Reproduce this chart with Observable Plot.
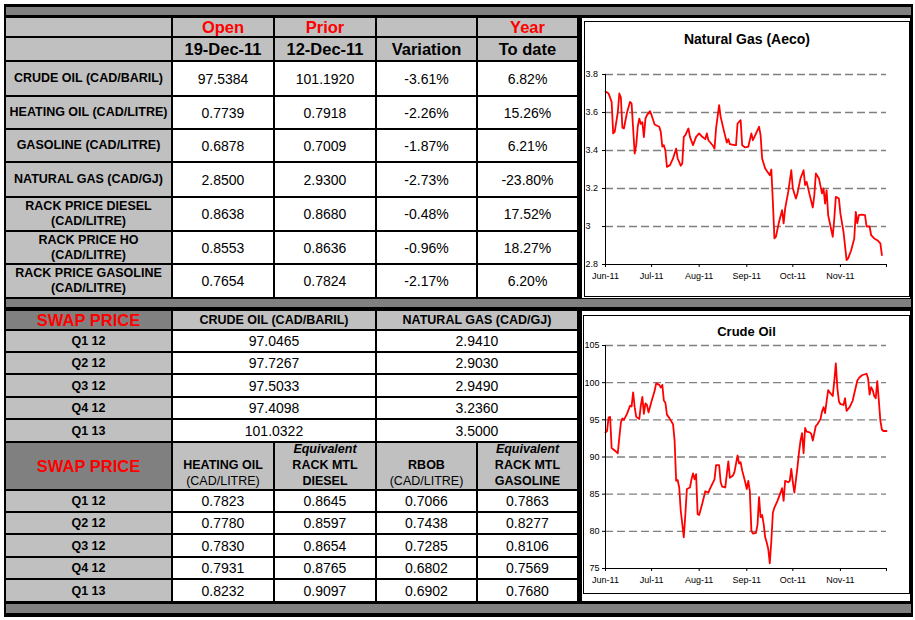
<!DOCTYPE html>
<html><head><meta charset="utf-8">
<script src="https://cdn.jsdelivr.net/npm/d3@7"></script>
<script src="https://cdn.jsdelivr.net/npm/@observablehq/plot@0.6"></script>
<style>
body{margin:0;background:#fff;font-family:"Liberation Sans",Arial,sans-serif;}
#page{position:relative;width:915px;height:620px;overflow:hidden;}
.abs{position:absolute;}
#frame{left:4px;top:4px;width:909px;height:613px;background:#000;}
.band{background:#808080;left:6px;width:905px;}
.grid{display:grid;gap:2px;background:#000;}
.c{display:flex;align-items:center;justify-content:center;text-align:center;white-space:nowrap;overflow:hidden;color:#000;}
.lg{background:#c0c0c0;}
.dg{background:#808080;}
.wh{background:#fff;}
.hdr{font-weight:bold;font-size:16.5px;}
.red{color:#ff0000;}
.lab{font-weight:bold;font-size:12.5px;line-height:15px;}
.val{font-size:14px;}
.q{font-size:12.5px;font-weight:bold;}
.sh{font-weight:bold;font-size:12.5px;}
.bh{font-size:12.5px;line-height:16px;align-items:flex-end;}
.box{background:#fff;}
.bord{border:1px solid #000;box-sizing:border-box;}
.title{text-align:center;color:#000;}
</style>
</head>
<body>
<div id="page">
  <div id="frame" class="abs"></div>
  <div class="abs band" style="top:7px;height:8px"></div>
  <div class="abs band" style="top:299px;height:8px"></div>
  <div class="abs band" style="top:604px;height:9px"></div>
  <div id="topGrid" class="abs grid" style="left:6px;top:18px;grid-template-columns:165px 100px 100px 99px 99px;grid-template-rows:18px 22px 33px 31px 31px 33px 32px 31px 32px;"></div>
  <div id="botGrid" class="abs grid" style="left:6px;top:311px;grid-template-columns:165px 100px 100px 99px 99px;grid-template-rows:18px 20px 20px 21px 20px 21px 46px 20px 20px 21px 20px 21px;"></div>
  <div class="abs box" style="left:582px;top:18px;width:328px;height:280px"></div>
  <div class="abs bord" style="left:584px;top:21px;width:326px;height:276px"></div>
  <div class="abs title" style="left:584px;width:326px;top:30px;line-height:18px;font-weight:bold;font-size:14px">Natural Gas (Aeco)</div>
  <div id="ngChart" class="abs" style="left:585px;top:60px"></div>
  <div class="abs box" style="left:582px;top:311px;width:328px;height:290px"></div>
  <div class="abs bord" style="left:583px;top:315px;width:327px;height:279px"></div>
  <div class="abs title" style="left:583px;width:327px;top:323px;line-height:18px;font-weight:bold;font-size:13px">Crude Oil</div>
  <div id="crudeChart" class="abs" style="left:585px;top:335px"></div>
</div>
<script>
// ---------- Table data ----------
const topHeader1 = ["", "Open", "Prior", "", "Year"];
const topHeader2 = ["", "19-Dec-11", "12-Dec-11", "Variation", "To date"];
const products = ["CRUDE OIL (CAD/BARIL)", "HEATING OIL (CAD/LITRE)", "GASOLINE (CAD/LITRE)", "NATURAL GAS (CAD/GJ)", "RACK PRICE DIESEL<br>(CAD/LITRE)", "RACK PRICE HO<br>(CAD/LITRE)", "RACK PRICE GASOLINE<br>(CAD/LITRE)"];
const openPrices = ["97.5384", "0.7739", "0.6878", "2.8500", "0.8638", "0.8553", "0.7654"];
const priorPrices = ["101.1920", "0.7918", "0.7009", "2.9300", "0.8680", "0.8636", "0.7824"];
const variations = ["-3.61%", "-2.26%", "-1.87%", "-2.73%", "-0.48%", "-0.96%", "-2.17%"];
const yearToDate = ["6.82%", "15.26%", "6.21%", "-23.80%", "17.52%", "18.27%", "6.20%"];

const swapTitle = "SWAP PRICE";
const swapHeader1 = ["CRUDE OIL (CAD/BARIL)", "NATURAL GAS (CAD/GJ)"];
const quarters = ["Q1 12", "Q2 12", "Q3 12", "Q4 12", "Q1 13"];
const swapCrude = ["97.0465", "97.7267", "97.5033", "97.4098", "101.0322"];
const swapGas = ["2.9410", "2.9030", "2.9490", "3.2360", "3.5000"];
const swapHeader2 = ["<b>HEATING OIL</b><br>(CAD/LITRE)", "<b><i>Equivalent</i><br>RACK MTL<br>DIESEL</b>", "<b>RBOB</b><br>(CAD/LITRE)", "<b><i>Equivalent</i><br>RACK MTL<br>GASOLINE</b>"];
const swapHeatingOil = ["0.7823", "0.7780", "0.7830", "0.7931", "0.8232"];
const swapRackDiesel = ["0.8645", "0.8597", "0.8654", "0.8765", "0.9097"];
const swapRbob = ["0.7066", "0.7438", "0.7285", "0.6802", "0.6902"];
const swapRackGasoline = ["0.7863", "0.8277", "0.8106", "0.7569", "0.7680"];

// ---------- Chart data ----------
const monthTicks = ["2011-06-01","2011-07-01","2011-08-01","2011-09-01","2011-10-01","2011-11-01","2011-12-01"];
const monthLabels = ["Jun-11","Jul-11","Aug-11","Sep-11","Oct-11","Nov-11",""];

const ngTicks = [2.8, 3, 3.2, 3.4, 3.6, 3.8];
const ngDates = ["2011-06-01","2011-06-03","2011-06-05","2011-06-06","2011-06-07","2011-06-09","2011-06-10","2011-06-11","2011-06-12","2011-06-13","2011-06-15","2011-06-17","2011-06-18","2011-06-20","2011-06-21","2011-06-22","2011-06-23","2011-06-24","2011-06-25","2011-06-26","2011-06-27","2011-06-28","2011-06-30",
"2011-07-01","2011-07-03","2011-07-06","2011-07-07","2011-07-08","2011-07-09","2011-07-10","2011-07-11","2011-07-13","2011-07-15","2011-07-17","2011-07-18","2011-07-20","2011-07-21","2011-07-22","2011-07-23","2011-07-25","2011-07-26","2011-07-28","2011-07-30",
"2011-08-01","2011-08-03","2011-08-05","2011-08-06","2011-08-07","2011-08-10","2011-08-11","2011-08-12","2011-08-14","2011-08-15","2011-08-17","2011-08-19","2011-08-20","2011-08-21","2011-08-24","2011-08-25","2011-08-26","2011-08-28","2011-08-29","2011-08-31",
"2011-09-02","2011-09-04","2011-09-05","2011-09-06","2011-09-08","2011-09-09","2011-09-10","2011-09-11","2011-09-13","2011-09-16","2011-09-17","2011-09-18","2011-09-19","2011-09-20","2011-09-22","2011-09-24","2011-09-25","2011-09-26","2011-09-28","2011-09-30",
"2011-10-01","2011-10-03","2011-10-04","2011-10-06","2011-10-08","2011-10-09","2011-10-10","2011-10-12","2011-10-14","2011-10-15","2011-10-16","2011-10-18","2011-10-20","2011-10-21","2011-10-22","2011-10-23","2011-10-24","2011-10-27","2011-10-28","2011-10-29","2011-10-31",
"2011-11-01","2011-11-03","2011-11-05","2011-11-06","2011-11-08","2011-11-10","2011-11-11","2011-11-12","2011-11-13","2011-11-15","2011-11-17","2011-11-18","2011-11-20","2011-11-21","2011-11-23","2011-11-25","2011-11-27","2011-11-28"];
const ngValues = [3.71,3.70,3.656,3.49,3.498,3.60,3.70,3.68,3.52,3.516,3.60,3.656,3.647,3.384,3.428,3.525,3.568,3.54,3.549,3.47,3.568,3.586,3.607,
3.586,3.537,3.525,3.498,3.42,3.428,3.40,3.314,3.323,3.358,3.41,3.358,3.32,3.332,3.472,3.481,3.516,3.472,3.428,3.472,
3.49,3.472,3.46,3.49,3.454,3.425,3.41,3.516,3.639,3.577,3.507,3.442,3.46,3.433,3.428,3.428,3.542,3.56,3.428,3.416,
3.42,3.49,3.454,3.472,3.507,3.525,3.481,3.358,3.305,3.27,3.30,3.13,2.937,2.946,3.024,3.086,3.016,3.095,3.182,3.296,
3.20,3.147,3.174,3.253,3.296,3.218,3.235,3.165,3.10,3.165,3.279,3.253,3.174,3.20,3.12,3.19,3.06,2.946,3.042,3.156,3.147,
3.068,2.972,2.823,2.832,2.875,2.937,3.077,3.016,3.06,3.063,3.06,3.0,3.0,2.954,2.937,2.928,2.911,2.849];

const crudeTicks = [75, 80, 85, 90, 95, 100, 105];
const crudeDates = ["2011-06-01","2011-06-02","2011-06-03","2011-06-04","2011-06-05","2011-06-06","2011-06-08","2011-06-09","2011-06-10","2011-06-11","2011-06-12","2011-06-13","2011-06-15","2011-06-17","2011-06-18","2011-06-19","2011-06-20","2011-06-21","2011-06-23","2011-06-24","2011-06-25","2011-06-26","2011-06-27","2011-06-28","2011-06-29",
"2011-07-01","2011-07-03","2011-07-04","2011-07-06","2011-07-07","2011-07-08","2011-07-09","2011-07-10","2011-07-11","2011-07-13","2011-07-15","2011-07-16","2011-07-17","2011-07-18","2011-07-19","2011-07-20","2011-07-22","2011-07-23","2011-07-24","2011-07-26","2011-07-27","2011-07-28","2011-07-29","2011-07-30","2011-07-31",
"2011-08-01","2011-08-03","2011-08-05","2011-08-07","2011-08-08","2011-08-11","2011-08-12","2011-08-14","2011-08-15","2011-08-16","2011-08-18","2011-08-19","2011-08-20","2011-08-21","2011-08-23","2011-08-24","2011-08-26","2011-08-27","2011-08-28","2011-08-29","2011-08-31",
"2011-09-01","2011-09-02","2011-09-03","2011-09-04","2011-09-05","2011-09-07","2011-09-08","2011-09-09","2011-09-10","2011-09-11","2011-09-12","2011-09-13","2011-09-14","2011-09-15","2011-09-16","2011-09-17","2011-09-18","2011-09-19","2011-09-21","2011-09-23","2011-09-24","2011-09-25","2011-09-26","2011-09-28","2011-09-29","2011-09-30",
"2011-10-01","2011-10-02","2011-10-04","2011-10-05","2011-10-06","2011-10-07","2011-10-08","2011-10-09","2011-10-10","2011-10-12","2011-10-13","2011-10-14","2011-10-16","2011-10-17","2011-10-19","2011-10-20","2011-10-21","2011-10-22","2011-10-23","2011-10-24","2011-10-25","2011-10-27","2011-10-28","2011-10-29","2011-10-30","2011-10-31",
"2011-11-01","2011-11-03","2011-11-04","2011-11-05","2011-11-07","2011-11-09","2011-11-10","2011-11-12","2011-11-13","2011-11-15","2011-11-18","2011-11-19","2011-11-20","2011-11-21","2011-11-22","2011-11-23","2011-11-24","2011-11-25","2011-11-26","2011-11-27","2011-11-28","2011-11-29","2011-12-01"];
const crudeValues = [93.3,93.5,95.3,95.4,91.2,91.05,90.7,90.5,92.6,94.6,95.2,95.0,95.8,96.9,96.8,98.7,96.7,95.4,95.1,96.9,98.1,95.8,97.2,97.0,96.0,
97.5,98.9,99.9,99.7,99.35,99.7,97.6,97.3,95.7,95.1,94.4,92.2,86.8,86.9,85.9,82.8,79.2,82.3,85.7,85.9,87.0,87.8,87.0,87.7,82.3,
82.2,83.7,85.4,85.2,85.7,87.0,88.9,88.9,86.6,86.0,85.9,87.7,89.4,87.2,87.5,88.0,90.2,89.1,89.3,88.2,86.6,
85.7,86.8,85.4,80.1,79.7,79.8,80.9,84.6,81.9,82.2,81.0,79.2,78.5,77.6,75.7,78.7,82.5,83.2,84.1,85.2,85.8,84.1,86.8,86.6,86.8,88.4,
86.6,85.2,88.6,90.6,92.2,93.2,90.5,93.9,93.4,93.3,93.1,92.2,94.2,94.4,95.1,96.1,96.7,95.9,97.5,99.0,98.7,98.2,100.2,102.6,99.3,97.5,
97.1,97.0,97.9,96.2,96.7,97.6,98.5,100.3,100.6,101.0,101.2,100.6,98.4,99.4,99.0,98.2,97.9,100.2,97.6,94.9,93.7,93.5,93.5];

// ---------- Tables ----------
function cell(parent, html, cls, extra) {
  const d = document.createElement("div");
  d.className = "c " + cls;
  const inner = document.createElement("div");
  inner.innerHTML = html;
  d.appendChild(inner);
  if (extra) Object.assign(d.style, extra);
  parent.appendChild(d);
  return d;
}
const tg = document.getElementById("topGrid");
topHeader1.forEach(t => cell(tg, t, "lg hdr red"));
topHeader2.forEach(t => cell(tg, t, "lg hdr"));
products.forEach((p, i) => {
  cell(tg, p, "lg lab");
  cell(tg, openPrices[i], "wh val");
  cell(tg, priorPrices[i], "wh val");
  cell(tg, variations[i], "wh val");
  cell(tg, yearToDate[i], "wh val");
});

const bg = document.getElementById("botGrid");
cell(bg, swapTitle, "dg hdr red");
cell(bg, swapHeader1[0], "lg sh", {gridColumn: "span 2"});
cell(bg, swapHeader1[1], "lg sh", {gridColumn: "span 2"});
quarters.forEach((q, i) => {
  cell(bg, q, "lg q");
  cell(bg, swapCrude[i], "wh val", {gridColumn: "span 2"});
  cell(bg, swapGas[i], "wh val", {gridColumn: "span 2"});
});
cell(bg, swapTitle, "dg hdr red");
swapHeader2.forEach(t => cell(bg, t, "lg bh"));
quarters.forEach((q, i) => {
  cell(bg, q, "lg q");
  cell(bg, swapHeatingOil[i], "wh val");
  cell(bg, swapRackDiesel[i], "wh val");
  cell(bg, swapRbob[i], "wh val");
  cell(bg, swapRackGasoline[i], "wh val");
});

// ---------- Charts ----------
const parse = d3.utcParse("%Y-%m-%d");
const tickDates = monthTicks.map(parse);
const labelByTime = new Map(tickDates.map((d, i) => [+d, monthLabels[i]]));

function lineChart({dates, values, ticks, height, marginTop, marginBottom, yLabelStart}) {
  const data = dates.map((d, i) => ({date: parse(d), value: values[i]}));
  const yMin = d3.min(ticks), yMax = d3.max(ticks);
  return Plot.plot({
    width: 323,
    height,
    marginLeft: 20,
    marginRight: 22,
    marginTop,
    marginBottom,
    style: {fontFamily: "'Liberation Sans', Arial, sans-serif", fontSize: "9px", color: "#000", background: "transparent", overflow: "visible"},
    x: {type: "utc", domain: [tickDates[0], tickDates[tickDates.length - 1]], label: null},
    y: {domain: [yMin, yMax], label: null},
    marks: [
      Plot.ruleY(ticks.filter(t => t > yMin), {stroke: "#808080", strokeWidth: 1.3, strokeDasharray: "8,4"}),
      Plot.line(data, {x: "date", y: "value", stroke: "#ff0000", strokeWidth: 1.8, strokeLinejoin: "round"}),
      Plot.ruleX([tickDates[0]], {stroke: "#000", strokeWidth: 1}),
      Plot.ruleY([yMin], {stroke: "#000", strokeWidth: 1}),
      Plot.axisY({ticks, label: null, tickSize: 3, tickPadding: yLabelStart ? 17 : 3, textAnchor: yLabelStart ? "start" : "end", tickFormat: d => String(d)}),
      Plot.axisX({ticks: tickDates, label: null, tickSize: 3, tickPadding: 5, tickFormat: d => labelByTime.get(+d)})
    ]
  });
}

document.getElementById("ngChart").appendChild(lineChart({
  dates: ngDates, values: ngValues, ticks: ngTicks, height: 230, marginTop: 14, marginBottom: 26, yLabelStart: true
}));
document.getElementById("crudeChart").appendChild(lineChart({
  dates: crudeDates, values: crudeValues, ticks: crudeTicks, height: 255, marginTop: 10, marginBottom: 22, yLabelStart: false
}));
</script>
</body></html>
